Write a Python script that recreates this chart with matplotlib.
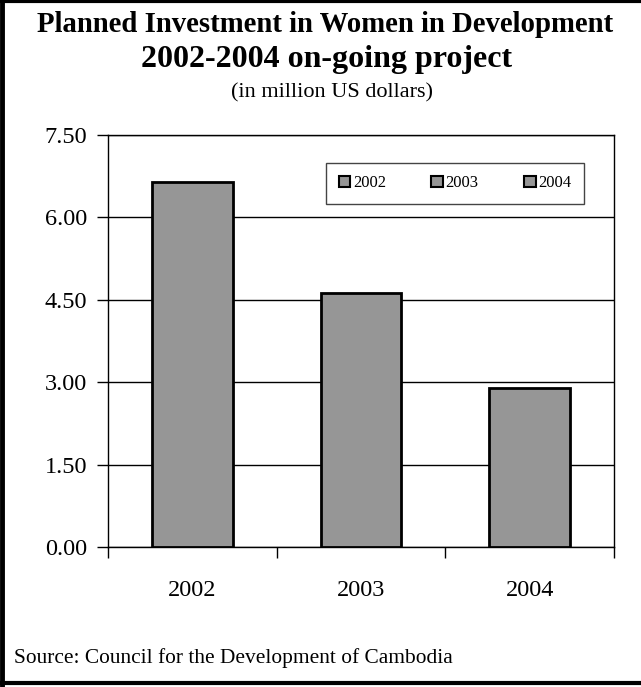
import matplotlib.pyplot as plt
import numpy as np
from matplotlib.lines import Line2D
from matplotlib.patches import Patch

years = ['2002', '2003', '2004']
investment = [6.64, 4.63, 2.89]
yticks = [0.0, 1.5, 3.0, 4.5, 6.0, 7.5]

plt.rcParams['font.family'] = ['Liberation Serif', 'DejaVu Serif']

fig = plt.figure(figsize=(6.41, 6.87), dpi=100)
ax = fig.add_axes([0.1685, 0.2038, 0.7894, 0.5997])

x = np.arange(len(years))
ax.bar(x, investment, width=0.48, color='#969696', edgecolor='black', linewidth=2, zorder=3)

ax.set_ylim(0, 7.5)
ax.set_yticks(yticks)
ax.set_yticklabels(['%.2f' % v for v in yticks])
ax.yaxis.grid(True, color='black', linewidth=1)
ax.set_axisbelow(True)

ax.set_xlim(-0.5, 2.5)
ax.set_xticks([-0.5, 0.5, 1.5, 2.5])
ax.set_xticklabels([])
ax.set_xticks(x, minor=True)
ax.set_xticklabels(years, minor=True)
ax.tick_params(axis='x', which='major', direction='out', length=8, width=1)
ax.tick_params(axis='x', which='minor', length=0, pad=24, labelsize=17.5)
ax.tick_params(axis='y', direction='out', length=8, width=1, pad=7, labelsize=17.5)

for s in ax.spines.values():
    s.set_linewidth(1)
    s.set_color('black')

#legend: one entry per year, all in the same grey
handles = [Patch(facecolor='#969696', edgecolor='black', linewidth=1.5) for _ in years]
leg = ax.legend(handles, years, ncol=3, loc='center', mode='expand',
                bbox_to_anchor=(0.431, 0.833, 0.51, 0.099), borderaxespad=0,
                fontsize=12, frameon=True, fancybox=False, framealpha=1,
                handlelength=0.7, handleheight=0.7, handletextpad=0.15,
                borderpad=0.75, columnspacing=1.0)
leg.get_frame().set_edgecolor('#444444')
leg.get_frame().set_linewidth(1)

fig.text(0.507, 0.9534, 'Planned Investment in Women in Development',
         ha='center', va='baseline', fontsize=20.7, fontweight='bold')
fig.text(0.510, 0.9025, '2002-2004 on-going project',
         ha='center', va='baseline', fontsize=23, fontweight='bold')
fig.text(0.518, 0.8588, '(in million US dollars)',
         ha='center', va='baseline', fontsize=16)
fig.text(0.022, 0.035, 'Source: Council for the Development of Cambodia',
         ha='left', va='baseline', fontsize=15.4)

#page border (left, top, bottom)
fig.add_artist(Line2D([0.003, 0.003], [0, 1], color='black', linewidth=3.5, transform=fig.transFigure))
fig.add_artist(Line2D([0, 1], [0.998, 0.998], color='black', linewidth=3, transform=fig.transFigure))
fig.add_artist(Line2D([0, 1], [0.006, 0.006], color='black', linewidth=3, transform=fig.transFigure))

fig.savefig('out.png', dpi=100)
